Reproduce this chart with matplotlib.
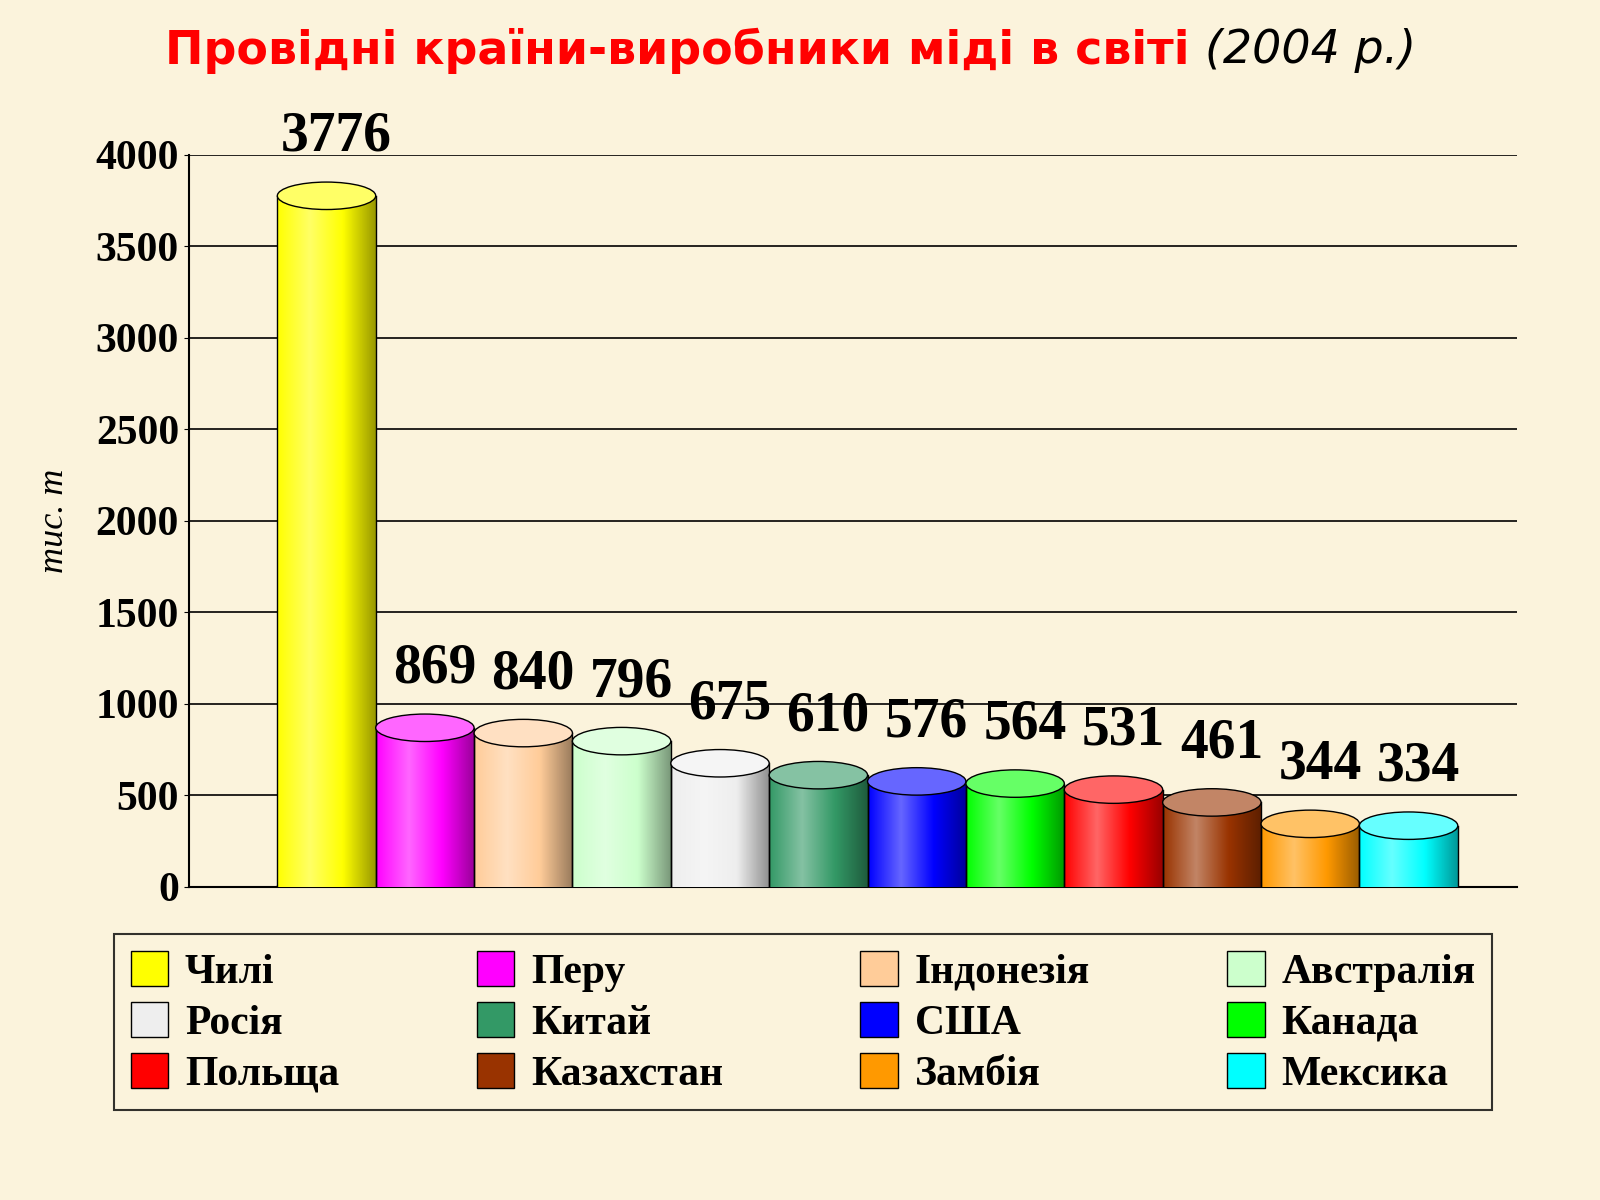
import matplotlib
matplotlib.use("Agg")
import matplotlib.pyplot as plt
import numpy as np
from matplotlib.patches import Ellipse, Rectangle, Patch
from matplotlib.colors import LinearSegmentedColormap, to_rgb

countries = ["Чилі", "Перу", "Індонезія", "Австралія", "Росія", "Китай",
             "США", "Канада", "Польща", "Казахстан", "Замбія", "Мексика"]
values = [3776, 869, 840, 796, 675, 610, 576, 564, 531, 461, 344, 334]
colors = ["#FFFF00", "#FF00FF", "#FFCC99", "#CCFFCC", "#EEEEEE", "#339966",
          "#0000FF", "#00FF00", "#FF0000", "#993300", "#FF9900", "#00FFFF"]
yticks = [0, 500, 1000, 1500, 2000, 2500, 3000, 3500, 4000]

bg = "#FBF3DC"
fig = plt.figure(figsize=(16, 12), dpi=100, facecolor=bg)
ax = fig.add_axes([0.118, 0.261, 0.83, 0.61])
ax.set_facecolor(bg)
ax.set_ylim(0, 4000)
ax.set_xlim(-1.4, 12.1)
ax.set_yticks(yticks)
ax.set_yticklabels([str(t) for t in yticks], fontfamily="Liberation Serif",
                   fontweight="bold", fontsize=30)
ax.set_xticks([])
ax.grid(axis="y", color="black", lw=1.2)
ax.set_axisbelow(True)
for s in ["top", "right"]:
    ax.spines[s].set_visible(False)
ax.spines["left"].set_linewidth(1.5)
ax.spines["bottom"].set_linewidth(1.5)
ax.set_ylabel("тис. т", fontfamily="Liberation Serif", fontstyle="italic",
              fontsize=26, labelpad=18)

w = 1.0
eh = 150
for i, (v, c) in enumerate(zip(values, colors)):
    rgb = np.array(to_rgb(c))
    light = np.clip(rgb * 0.6 + 0.4, 0, 1)
    dark = rgb * 0.6
    cmap = LinearSegmentedColormap.from_list("g", [rgb, light, rgb, dark])
    x0, x1 = i - w / 2, i + w / 2
    grad = np.linspace(0, 1, 200).reshape(1, -1)
    im = ax.imshow(grad, cmap=cmap, extent=(x0, x1, 0, v), aspect="auto", zorder=3)
    rect = Rectangle((x0, 0), w, v, transform=ax.transData, facecolor="none")
    im.set_clip_path(rect)
    ax.plot([x0, x0], [0, v], color="black", lw=1, zorder=4)
    ax.plot([x1, x1], [0, v], color="black", lw=1, zorder=4)
    ax.add_patch(Ellipse((i, 0), w, eh, facecolor=tuple(dark), edgecolor="black", lw=1, zorder=2))
    ax.add_patch(Ellipse((i, v), w, eh, facecolor=tuple(light), edgecolor="black", lw=1, zorder=5))
    ax.text(i + 0.1, v + 180, str(v), ha="center", va="bottom", fontfamily="Liberation Serif",
            fontweight="bold", fontsize=40, zorder=6)

t1 = fig.text(0.103, 0.958, "Провідні країни-виробники міді в світі ", ha="left", va="center",
              color="#FF0000", fontsize=33, fontweight="bold", fontfamily="DejaVu Sans")
ax.annotate("(2004 р.)", xy=(1, 0.5), xycoords=t1, ha="left", va="center", color="black",
            fontsize=33, fontstyle="italic", fontfamily="DejaVu Sans", annotation_clip=False)

order = [j + 4 * r for j in range(4) for r in range(3)]
handles = [Patch(facecolor=colors[k], edgecolor="black") for k in order]
labels = [countries[k] for k in order]
leg = fig.legend(handles, labels, ncol=4, loc="center",
                 bbox_to_anchor=(0.502, 0.148), frameon=True, fancybox=False,
                 prop={"family": "Liberation Serif", "weight": "bold", "size": 30},
                 handlelength=0.9, handleheight=0.9, handletextpad=0.4, columnspacing=3.3,
                 labelspacing=0.25, borderpad=0.4)
leg.get_frame().set_edgecolor("black")
leg.get_frame().set_linewidth(1.5)
leg.get_frame().set_facecolor(bg)

fig.savefig("out.png", dpi=100, facecolor=bg)
